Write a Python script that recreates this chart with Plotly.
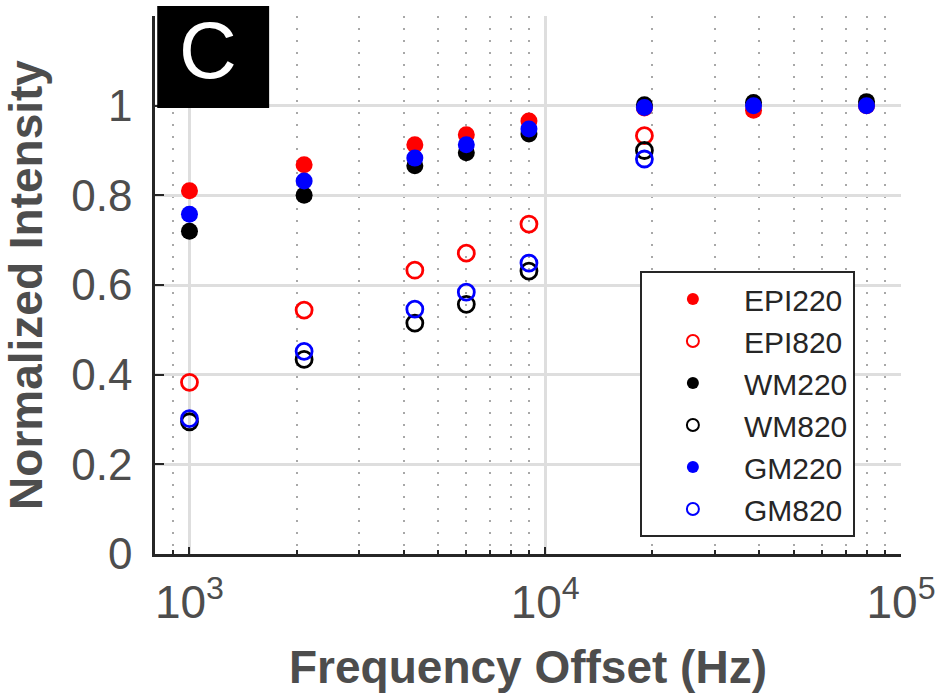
import plotly.graph_objects as go
import math

freq = [1000, 2100, 4300, 6000, 9000, 19000, 38500, 80000]
freq_820 = [1000, 2100, 4300, 6000, 9000, 19000]

epi220 = [0.810, 0.868, 0.913, 0.935, 0.966, 0.995, 0.990, 1.000]
epi820 = [0.383, 0.544, 0.633, 0.671, 0.736, 0.933]
wm220 = [0.720, 0.800, 0.866, 0.895, 0.937, 1.002, 1.007, 1.009]
wm820 = [0.295, 0.434, 0.515, 0.557, 0.631, 0.900]
gm220 = [0.758, 0.832, 0.883, 0.913, 0.948, 0.996, 1.000, 1.000]
gm820 = [0.302, 0.452, 0.546, 0.584, 0.649, 0.881]

y_ticks = [0, 0.2, 0.4, 0.6, 0.8, 1]
y_ticktext = ["0", "0.2", "0.4", "0.6", "0.8", "1"]
x_ticks = [1e3, 1e4, 1e5]
x_ticktext = ["10<sup>3</sup>", "10<sup>4</sup>", "10<sup>5</sup>"]
x_minor = [800, 900] + [m * 1000 for m in range(2, 10)] + [m * 10000 for m in range(2, 10)]

series = [
    ("EPI220", freq, epi220, "#ff0000", True),
    ("EPI820", freq_820, epi820, "#ff0000", False),
    ("WM220", freq, wm220, "#000000", True),
    ("WM820", freq_820, wm820, "#000000", False),
    ("GM220", freq, gm220, "#0000ff", True),
    ("GM820", freq_820, gm820, "#0000ff", False),
]

fig = go.Figure()
for name, xs, ys, col, filled in series:
    if filled:
        marker = dict(symbol="circle", size=17, color=col, line=dict(width=0))
    else:
        marker = dict(symbol="circle-open", size=16, color=col, line=dict(width=2.8, color=col))
    fig.add_trace(go.Scatter(x=xs, y=ys, mode="markers", name=name, marker=marker))

font_family = "Liberation Sans, Arial, Helvetica, sans-serif"

fig.update_layout(
    width=948, height=696,
    margin=dict(l=155, r=41, t=16, b=142),
    paper_bgcolor="white", plot_bgcolor="white",
    font=dict(family=font_family, color="#4d4d4d"),
    showlegend=True,
    legend=dict(
        x=0.650, y=0.526, xanchor="left", yanchor="top",
        bgcolor="white", bordercolor="#262626", borderwidth=2,
        font=dict(size=30, color="#262626", family=font_family),
        itemsizing="constant", itemwidth=92,
        tracegroupgap=0,
    ),
    xaxis=dict(
        type="log", range=[math.log10(800), 5],
        tickvals=x_ticks, ticktext=x_ticktext,
        tickfont=dict(size=46, color="#4d4d4d"),
        ticks="inside", ticklen=7, tickwidth=2, tickcolor="#262626",
        showline=True, linecolor="#262626", linewidth=2.5, mirror=False,
        showgrid=True, gridcolor="#dedede", gridwidth=2.5,
        minor=dict(tickvals=x_minor, ticks="inside", ticklen=4, tickwidth=1.5,
                   tickcolor="#262626", showgrid=True, gridcolor="#a8a8a8",
                   gridwidth=2, griddash="2px,10px"),
        ticklabelstandoff=6,
        zeroline=False,
        title=dict(text="<b>Frequency Offset (Hz)</b>", font=dict(size=46, color="#4d4d4d"), standoff=24),
    ),
    yaxis=dict(
        range=[0, 1.2],
        tickvals=y_ticks, ticktext=y_ticktext,
        tickfont=dict(size=44, color="#4d4d4d"),
        ticks="inside", ticklen=9, tickwidth=2, tickcolor="#262626",
        showline=True, linecolor="#262626", linewidth=2.5, mirror=False,
        showgrid=True, gridcolor="#dedede", gridwidth=2.5,
        ticklabelstandoff=11,
        zeroline=False,
        title=dict(text="<b>Normalized Intensity</b>", font=dict(size=46, color="#4d4d4d"), standoff=20),
    ),
)

fig.add_shape(type="rect", xref="paper", yref="paper",
              x0=0.003, x1=0.153, y0=0.829, y1=1.0186,
              fillcolor="black", line=dict(width=0), layer="above")
fig.add_annotation(xref="paper", yref="paper", x=0.0705, y=0.935,
                   text="C", showarrow=False,
                   font=dict(size=80, color="white", family=font_family),
                   xanchor="center", yanchor="middle")

fig.write_html("out.html")
